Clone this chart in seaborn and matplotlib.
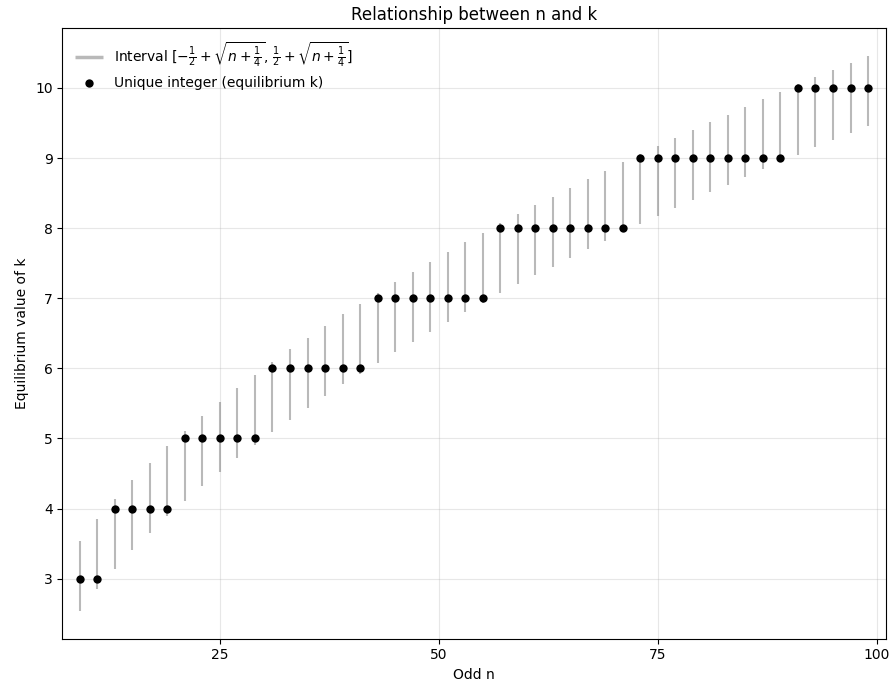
import numpy as np
import pandas as pd
import matplotlib
matplotlib.use("Agg")
import matplotlib.pyplot as plt
import seaborn as sns

# Odd n values and the equilibrium k for each one
n_values = [9, 11, 13, 15, 17, 19, 21, 23, 25, 27, 29, 31, 33, 35, 37, 39, 41, 43, 45, 47, 49,
            51, 53, 55, 57, 59, 61, 63, 65, 67, 69, 71, 73, 75, 77, 79, 81, 83, 85, 87, 89,
            91, 93, 95, 97, 99]
k_values = [3, 3, 4, 4, 4, 4, 5, 5, 5, 5, 5, 6, 6, 6, 6, 6, 6, 7, 7, 7, 7,
            7, 7, 7, 8, 8, 8, 8, 8, 8, 8, 8, 9, 9, 9, 9, 9, 9, 9, 9, 9,
            10, 10, 10, 10, 10]

# interval bounds
lower = [2.54, 2.85, 3.14, 3.41, 3.65, 3.89, 4.11, 4.32, 4.52, 4.72, 4.91, 5.09, 5.27, 5.44,
         5.60, 5.77, 5.92, 6.08, 6.23, 6.37, 6.52, 6.66, 6.80, 6.93, 7.07, 7.20, 7.33, 7.45,
         7.58, 7.70, 7.82, 7.94, 8.06, 8.17, 8.29, 8.40, 8.51, 8.62, 8.73, 8.84, 8.95,
         9.05, 9.16, 9.26, 9.36, 9.46]
upper = [3.54, 3.85, 4.14, 4.41, 4.65, 4.89, 5.11, 5.32, 5.52, 5.72, 5.91, 6.09, 6.27, 6.44,
         6.60, 6.77, 6.92, 7.08, 7.23, 7.37, 7.52, 7.66, 7.80, 7.93, 8.07, 8.20, 8.33, 8.45,
         8.58, 8.70, 8.82, 8.94, 9.06, 9.17, 9.29, 9.40, 9.51, 9.62, 9.73, 9.84, 9.95,
         10.05, 10.16, 10.26, 10.36, 10.46]

df = pd.DataFrame({"n": n_values, "k": k_values, "lo": lower, "hi": upper})

fig, ax = plt.subplots(figsize=(8.9, 6.83), dpi=100)

ax.vlines(df["n"], df["lo"], df["hi"], color="gray", alpha=0.55, linewidth=1.5,
          label=r"Interval $[-\frac{1}{2}+\sqrt{n+\frac{1}{4}},\,\frac{1}{2}+\sqrt{n+\frac{1}{4}}]$")
sns.scatterplot(data=df, x="n", y="k", color="black", s=36, edgecolor="black",
                linewidth=0, zorder=3, label="Unique integer (equilibrium k)", ax=ax)

ax.set_xlim(df["n"].min() - 2, df["n"].max() + 2)
ax.set_xticks([25, 50, 75, 100])
ax.set_xlabel("Odd n")
ax.set_ylabel("Equilibrium value of k")
ax.set_title("Relationship between n and k")
ax.grid(True, alpha=0.3)
leg = ax.legend(loc="upper left", frameon=False)
leg.get_lines()[0].set_linewidth(2.5)

fig.subplots_adjust(left=0.07, right=0.995, top=0.959, bottom=0.065)
plt.savefig("out.png", dpi=100)
